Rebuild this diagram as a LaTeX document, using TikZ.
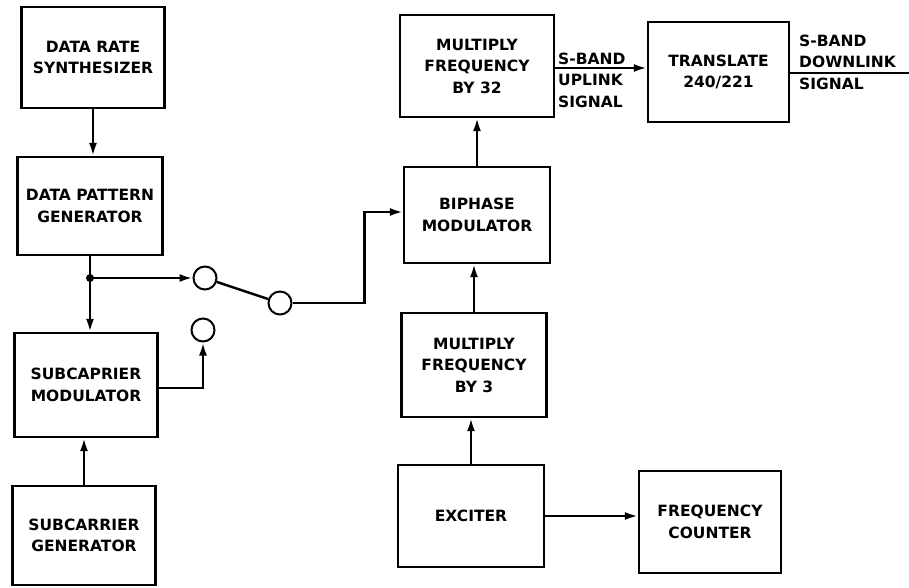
\documentclass[tikz,border=0pt]{standalone}
\usepackage{fontspec}
\setmainfont{DejaVu Sans}
\usetikzlibrary{arrows.meta}
\begin{document}
\begin{tikzpicture}[x=1pt,y=-1pt,
 txt/.style={font=\bfseries\fontsize{15.5}{21.5}\selectfont},
 blk/.style={draw,line width=2.2pt,align=center,txt,inner sep=0pt},
 wire/.style={line width=2.4pt},
 arr/.style={wire,-{Latex[length=13pt,width=8pt]}},
 term/.style={circle,draw,line width=2pt,minimum size=23pt,inner sep=0pt},
 lbl/.style={align=left,txt,inner sep=0pt,anchor=west}]
\useasboundingbox (0,0) rectangle (909,588);
\node[blk,minimum width=143pt,minimum height=101pt] (drs) at (93,57.5) {DATA RATE\\SYNTHESIZER};
\node[blk,minimum width=145pt,minimum height=98pt] (dpg) at (90,206) {DATA PATTERN\\GENERATOR};
\node[blk,minimum width=143pt,minimum height=104pt] (scm) at (86,385) {SUBCAPRIER\\MODULATOR};
\node[blk,minimum width=143pt,minimum height=99pt] (scg) at (84,535.5) {SUBCARRIER\\GENERATOR};
\node[blk,minimum width=154pt,minimum height=102pt] (m32) at (477,66) {MULTIPLY\\FREQUENCY\\BY 32};
\node[blk,minimum width=141pt,minimum height=100pt] (tr) at (718.5,72) {TRANSLATE\\240/221};
\node[blk,minimum width=146pt,minimum height=96pt] (bpm) at (477,215) {BIPHASE\\MODULATOR};
\node[blk,minimum width=145pt,minimum height=104pt] (m3) at (474,365) {MULTIPLY\\FREQUENCY\\BY 3};
\node[blk,minimum width=146pt,minimum height=102pt] (exc) at (471,516) {EXCITER};
\node[blk,minimum width=142pt,minimum height=102pt] (fc) at (710,522) {FREQUENCY\\COUNTER};
\node[term] (c1) at (205,278) {};
\node[term] (c2) at (280,303) {};
\node[term] (c3) at (203,330) {};
\coordinate (j) at (90,278);
\coordinate (out) at (909,73);
\node[lbl] (ul) at (558,80) {S-BAND\\UPLINK\\SIGNAL};
\node[lbl] (dl) at (799,62) {S-BAND\\DOWNLINK\\SIGNAL};
% connectors
\draw[arr] (drs.south) -- (drs.south |- dpg.north);
\draw[wire] (j |- dpg.south) -- (j);
\fill (j) circle (4pt);
\draw[arr] (j) -- (c1);
\draw[arr] (j) -- (j |- scm.north);
\draw[wire] (c1) -- (c2);
\draw[arr] (c2.east) -- ++(72,0) |- ([yshift=3pt]bpm.west);
\draw[arr] ([yshift=-3pt]scm.east) -| (c3.south);
\draw[arr] (scg.north) -- (scg.north |- scm.south);
\draw[arr] (exc.north) -- (exc.north |- m3.south);
\draw[arr] (m3.north) -- (m3.north |- bpm.south);
\draw[arr] (bpm.north) -- (bpm.north |- m32.south);
\draw[arr] ([yshift=-2pt]m32.east) -- ([yshift=-2pt]m32.east -| tr.west);
\draw[wire] ([yshift=-1pt]tr.east) -- (out);
\draw[arr] (exc.east) -- (exc.east -| fc.west);
\end{tikzpicture}
\end{document}
